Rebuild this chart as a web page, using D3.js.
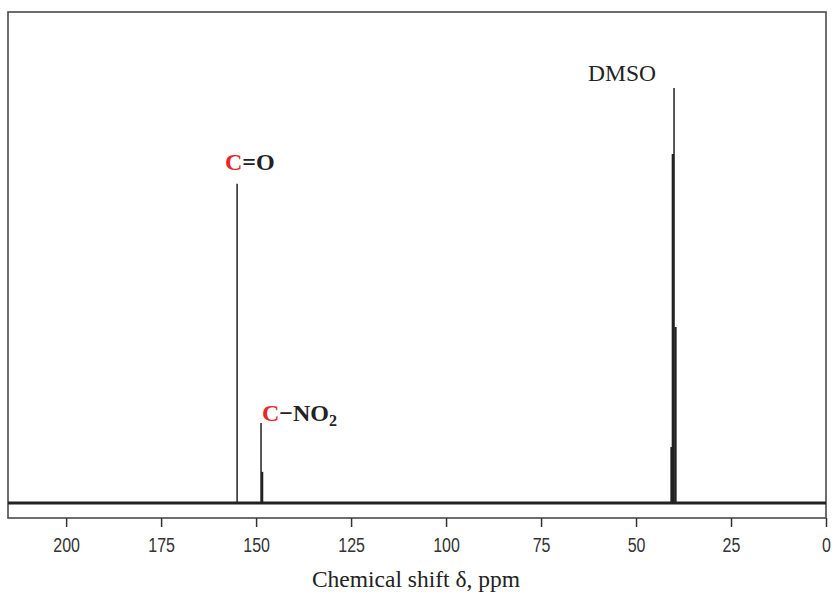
<!DOCTYPE html>
<html>
<head>
<meta charset="utf-8">
<script src="https://cdn.jsdelivr.net/npm/d3@7"></script>
<style>
  body { margin: 0; background: #fff; }
  svg { display: block; }
</style>
</head>
<body>
<div id="chart"></div>
<script>
// peak positions (ppm) and relative intensities
var peakShifts  = [155.0, 148.7, 148.4, 40.7, 40.3, 40.0, 39.6];
var peakHeights = [76.9, 19.3, 7.5, 13.5, 84.1, 100, 42.4];
var peakWidths  = [1.5, 1.5, 2.2, 2, 2.4, 1.5, 2.2];
var tickValues = [200, 175, 150, 125, 100, 75, 50, 25, 0];

var width = 832, height = 596;
var frame = {left: 8, top: 12, right: 826, bottom: 518};

var svg = d3.select("#chart").append("svg")
    .attr("width", width)
    .attr("height", height);

// x runs high -> low like a normal NMR plot
var x = d3.scaleLinear()
    .domain([215.3, 0])
    .range([frame.left, frame.right]);

var y = d3.scaleLinear()
    .domain([0, 118.3])
    .range([503, frame.top]);

// frame
svg.append("rect")
    .attr("x", frame.left)
    .attr("y", frame.top)
    .attr("width", frame.right - frame.left)
    .attr("height", frame.bottom - frame.top)
    .attr("fill", "none")
    .attr("stroke", "#4a4a4a")
    .attr("stroke-width", 1.6);

// x axis below frame
var xAxis = d3.axisBottom(x)
    .tickValues(tickValues)
    .tickSize(9)
    .tickPadding(11)
    .tickFormat(d3.format("d"));

var gx = svg.append("g")
    .attr("transform", "translate(0," + frame.bottom + ")")
    .call(xAxis);
gx.select(".domain").remove();
gx.selectAll(".tick line").attr("stroke", "#333").attr("stroke-width", 1.5);
// narrow-looking tick font: squeeze horizontally around the tick centre
gx.selectAll(".tick text")
    .attr("fill", "#333")
    .attr("transform", "scale(0.8,1)")
    .style("font-family", "'Liberation Sans', Arial, sans-serif")
    .style("font-size", "20px");

svg.append("text")
    .attr("x", 416)
    .attr("y", 587)
    .attr("text-anchor", "middle")
    .style("font-family", "'Liberation Serif', 'Times New Roman', serif")
    .style("font-size", "23.5px")
    .attr("fill", "#222")
    .text("Chemical shift δ, ppm");

// baseline
svg.append("line")
    .attr("x1", frame.left)
    .attr("x2", frame.right)
    .attr("y1", y(0))
    .attr("y2", y(0))
    .attr("stroke", "#222")
    .attr("stroke-width", 2.8);

// peaks as sticks
svg.selectAll(".peak")
    .data(peakShifts)
    .enter().append("line")
    .attr("class", "peak")
    .attr("x1", function(d) { return x(d); })
    .attr("x2", function(d) { return x(d); })
    .attr("y1", y(0))
    .attr("y2", function(d, i) { return y(peakHeights[i]); })
    .attr("stroke", "#222")
    .attr("stroke-width", function(d, i) { return peakWidths[i]; });

// labels
var serif = "'Liberation Serif', 'Times New Roman', serif";

svg.append("text")
    .attr("x", 622)
    .attr("y", 81)
    .attr("text-anchor", "middle")
    .style("font-family", serif)
    .style("font-size", "23.5px")
    .attr("fill", "#222")
    .text("DMSO");

var co = svg.append("text")
    .attr("x", 225)
    .attr("y", 170)
    .style("font-family", serif)
    .style("font-size", "24px")
    .style("font-weight", "bold")
    .attr("fill", "#222");
co.append("tspan").attr("fill", "#e8262a").text("C");
co.append("tspan").text("=O");

var cn = svg.append("text")
    .attr("x", 262)
    .attr("y", 421)
    .style("font-family", serif)
    .style("font-size", "24px")
    .style("font-weight", "bold")
    .attr("fill", "#222");
cn.append("tspan").attr("fill", "#e8262a").text("C");
cn.append("tspan").text("\u2212NO");
cn.append("tspan").attr("dy", 5).style("font-size", "16px").text("2");
</script>
</body>
</html>
